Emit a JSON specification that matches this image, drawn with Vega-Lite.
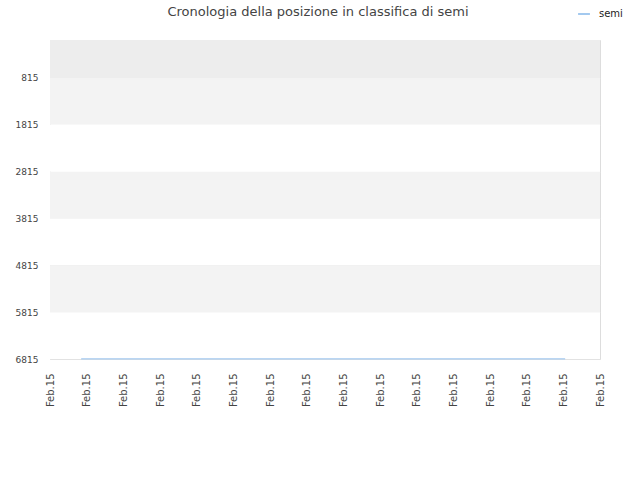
{
  "$schema": "https://vega.github.io/schema/vega-lite/v6.json",
  "autosize": "none",
  "width": 550,
  "height": 319,
  "padding": {"left": 50, "top": 40, "right": 40, "bottom": 121},
  "background": "white",
  "config": {
    "view": {"stroke": "#dddddd"},
    "font": "DejaVu Sans"
  },
  "title": {
    "text": "Cronologia della posizione in classifica di semi",
    "fontSize": 13,
    "fontWeight": "normal",
    "color": "#444444",
    "anchor": "middle",
    "offset": -12,
    "dx": -7
  },
  "datasets": {
    "bands": [
      {"top": 4, "bottom": 815, "shade": "a"},
      {"top": 815, "bottom": 1815, "shade": "b"},
      {"top": 1815, "bottom": 2815, "shade": "c"},
      {"top": 2815, "bottom": 3815, "shade": "b"},
      {"top": 3815, "bottom": 4815, "shade": "c"},
      {"top": 4815, "bottom": 5815, "shade": "b"},
      {"top": 5815, "bottom": 6815, "shade": "c"}
    ],
    "ranks": [
      {"time": "2015/02/15 00:51", "rank": 6812, "series": "semi"},
      {"time": "2015/02/15 14:03", "rank": 6812, "series": "semi"}
    ]
  },
  "layer": [
    {
      "data": {"name": "bands"},
      "mark": {"type": "rect"},
      "encoding": {
        "y": {"field": "top", "type": "quantitative"},
        "y2": {"field": "bottom"},
        "fill": {
          "field": "shade",
          "type": "nominal",
          "scale": {"domain": ["a", "b", "c"], "range": ["#ededed", "#f3f3f3", "#ffffff"]},
          "legend": null
        }
      }
    },
    {
      "data": {"name": "ranks"},
      "mark": {"type": "line", "strokeWidth": 1.2},
      "encoding": {
        "x": {
          "field": "time",
          "type": "temporal",
          "scale": {
            "domain": [
              {"year": 2015, "month": 2, "date": 15, "hours": 0},
              {"year": 2015, "month": 2, "date": 15, "hours": 15}
            ]
          },
          "axis": {
            "title": null,
            "grid": false,
            "domain": false,
            "ticks": false,
            "format": "%b.%d",
            "tickCount": 15,
            "labelAngle": -90,
            "labelAlign": "right",
            "labelBaseline": "middle",
            "labelFontSize": 10,
            "labelColor": "#444444",
            "labelPadding": 14,
            "labelOverlap": false,
            "labelFlush": false
          }
        },
        "y": {
          "field": "rank",
          "type": "quantitative",
          "scale": {"domain": [4, 6815], "reverse": true, "nice": false, "zero": false},
          "axis": {
            "title": null,
            "values": [815, 1815, 2815, 3815, 4815, 5815, 6815],
            "format": "d",
            "domain": false,
            "ticks": false,
            "grid": true,
            "gridColor": "#e2e2e2",
            "labelFontSize": 9,
            "labelColor": "#444444",
            "labelPadding": 12
          }
        },
        "color": {
          "field": "series",
          "type": "nominal",
          "scale": {"range": ["#a3c9ef"]},
          "legend": {
            "title": null,
            "orient": "none",
            "legendX": 527,
            "legendY": -33,
            "symbolType": "stroke",
            "symbolStrokeWidth": 2,
            "symbolSize": 140,
            "labelOffset": 8,
            "labelFontSize": 10,
            "labelColor": "#222222"
          }
        }
      }
    }
  ]
}
